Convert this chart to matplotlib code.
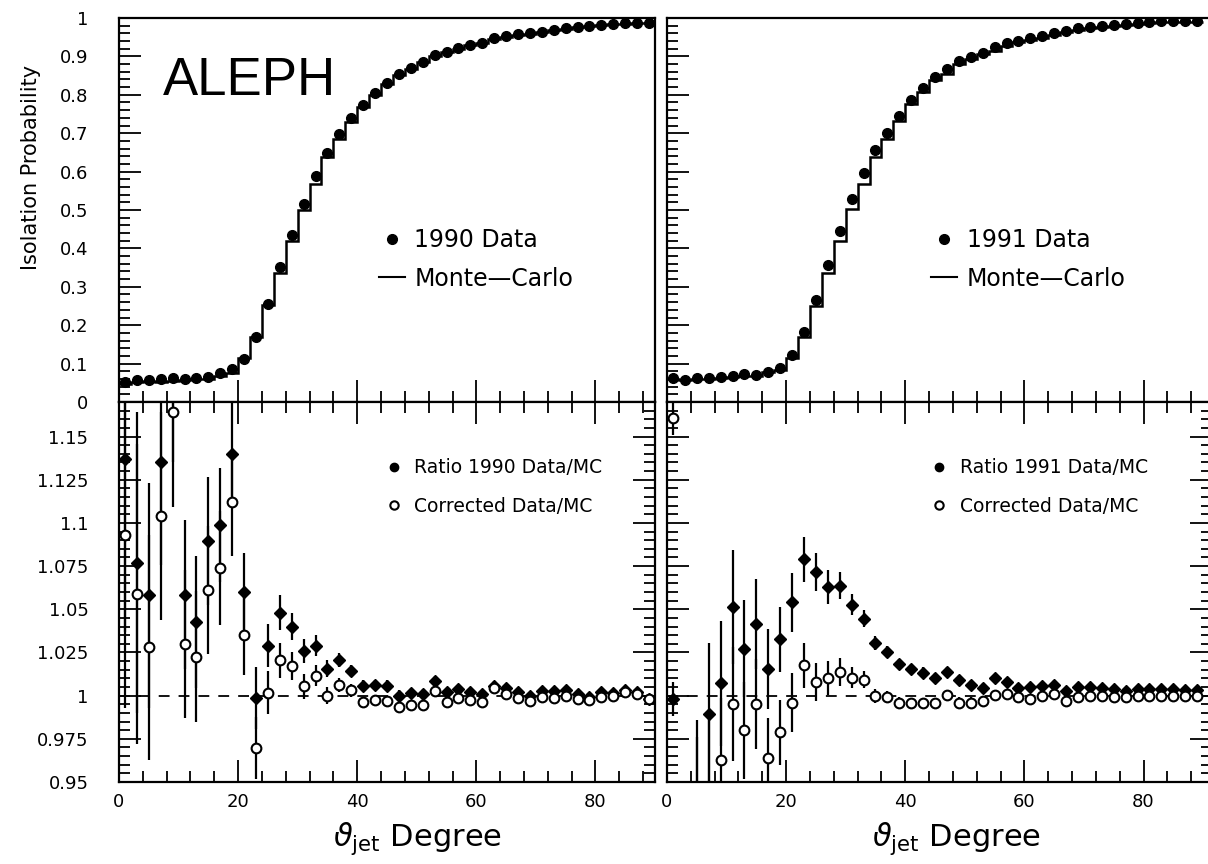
import matplotlib.pyplot as plt
import numpy as np
from matplotlib.lines import Line2D
from matplotlib.ticker import MultipleLocator, FuncFormatter

# bin centres / edges (degrees)
theta = [1, 3, 5, 7, 9, 11, 13, 15, 17, 19, 21, 23, 25, 27, 29, 31, 33, 35, 37, 39, 41, 43, 45,
         47, 49, 51, 53, 55, 57, 59, 61, 63, 65, 67, 69, 71, 73, 75, 77, 79, 81, 83, 85, 87, 89]
edges = [0, 2, 4, 6, 8, 10, 12, 14, 16, 18, 20, 22, 24, 26, 28, 30, 32, 34, 36, 38, 40, 42, 44, 46,
         48, 50, 52, 54, 56, 58, 60, 62, 64, 66, 68, 70, 72, 74, 76, 78, 80, 82, 84, 86, 88, 90]

# isolation probability, 1990
iso_data_90 = [0.053, 0.057, 0.057, 0.059, 0.062, 0.061, 0.062, 0.064, 0.075, 0.086, 0.112, 0.170,
               0.255, 0.351, 0.435, 0.515, 0.589, 0.649, 0.698, 0.739, 0.773, 0.804, 0.832, 0.854,
               0.869, 0.886, 0.904, 0.912, 0.921, 0.930, 0.936, 0.947, 0.953, 0.958, 0.960, 0.964,
               0.969, 0.973, 0.977, 0.980, 0.982, 0.984, 0.986, 0.986, 0.987]
iso_mc_90 = [0.048, 0.053, 0.054, 0.053, 0.055, 0.058, 0.059, 0.059, 0.069, 0.076, 0.114, 0.169,
             0.253, 0.335, 0.420, 0.500, 0.569, 0.639, 0.684, 0.729, 0.768, 0.800, 0.829, 0.852,
             0.868, 0.885, 0.900, 0.911, 0.920, 0.929, 0.935, 0.945, 0.951, 0.956, 0.959, 0.963,
             0.968, 0.972, 0.976, 0.979, 0.982, 0.984, 0.985, 0.986, 0.987]

# isolation probability, 1991
iso_data_91 = [0.062, 0.057, 0.062, 0.063, 0.064, 0.068, 0.072, 0.070, 0.079, 0.088, 0.122, 0.183,
               0.266, 0.357, 0.445, 0.528, 0.597, 0.655, 0.701, 0.745, 0.787, 0.817, 0.847, 0.866,
               0.889, 0.899, 0.910, 0.924, 0.934, 0.941, 0.947, 0.953, 0.962, 0.967, 0.973, 0.977,
               0.980, 0.982, 0.984, 0.988, 0.990, 0.992, 0.992, 0.993, 0.993]
iso_mc_91 = [0.060, 0.056, 0.060, 0.061, 0.062, 0.066, 0.069, 0.068, 0.077, 0.083, 0.114, 0.170,
             0.250, 0.337, 0.420, 0.502, 0.569, 0.639, 0.684, 0.731, 0.775, 0.806, 0.838, 0.855,
             0.881, 0.893, 0.906, 0.914, 0.927, 0.937, 0.942, 0.948, 0.956, 0.964, 0.968, 0.973,
             0.976, 0.978, 0.982, 0.985, 0.987, 0.989, 0.989, 0.990, 0.990]
iso_err = [0.004, 0.004, 0.004, 0.004, 0.004, 0.004, 0.004, 0.004, 0.005, 0.005, 0.006, 0.007,
           0.008, 0.008, 0.008, 0.008, 0.008, 0.007, 0.007, 0.007, 0.006, 0.006, 0.006, 0.005,
           0.005, 0.005, 0.005, 0.004, 0.004, 0.004, 0.004, 0.004, 0.003, 0.003, 0.003, 0.003,
           0.003, 0.003, 0.003, 0.003, 0.003, 0.003, 0.003, 0.003, 0.003]

# ratios data/MC, 1990
ratio_90 = [1.137, 1.077, 1.058, 1.1355, 1.19, 1.0585, 1.0426, 1.0895, 1.0987, 1.140, 1.0598,
            0.9985, 1.029, 1.048, 1.040, 1.026, 1.029, 1.0157, 1.0205, 1.0144, 1.0058, 1.0061,
            1.0058, 1.000, 1.0015, 1.001, 1.0086, 1.0019, 1.0038, 1.0019, 1.001, 1.0058, 1.0044,
            1.0019, 1.000, 1.0025, 1.0025, 1.0033, 1.001, 0.9994, 1.0019, 1.0013, 1.0033, 1.0019,
            0.998]
corr_90 = [1.093, 1.0588, 1.028, 1.104, 1.164, 1.030, 1.0226, 1.061, 1.074, 1.112, 1.035,
           0.9697, 1.0016, 1.0205, 1.017, 1.0053, 1.0115, 1.000, 1.006, 1.003, 0.9962, 0.9975,
           0.9967, 0.9933, 0.9943, 0.9948, 1.0025, 0.9962, 0.9987, 0.9975, 0.9962, 1.0044, 1.001,
           0.9987, 0.9967, 0.999, 0.9987, 1.000, 0.998, 0.9975, 0.999, 1.000, 1.0019, 1.001,
           0.998]
ratio_err_90 = [0.100, 0.087, 0.065, 0.060, 0.055, 0.043, 0.038, 0.037, 0.033, 0.031, 0.023,
                0.018, 0.0125, 0.010, 0.008, 0.007, 0.006, 0.005, 0.004, 0.0035, 0.003, 0.003,
                0.003, 0.003, 0.003, 0.003, 0.003, 0.0025, 0.0025, 0.0025, 0.0025, 0.0025, 0.0025,
                0.002, 0.002, 0.002, 0.002, 0.002, 0.002, 0.002, 0.002, 0.002, 0.002, 0.002, 0.002]

# ratios data/MC, 1991
ratio_91 = [0.998, np.nan, 0.940, 0.9895, 1.0071, 1.0512, 1.0272, 1.0416, 1.0153, 1.0326, 1.054,
            1.079, 1.0713, 1.063, 1.0637, 1.0527, 1.0445, 1.0307, 1.0255, 1.0183, 1.0155, 1.0133,
            1.0103, 1.0138, 1.009, 1.0061, 1.0042, 1.010, 1.008, 1.0046, 1.005, 1.0055, 1.0063,
            1.0027, 1.005, 1.0048, 1.0046, 1.004, 1.0027, 1.0037, 1.0037, 1.004, 1.0037, 1.0032,
            1.003]
corr_91 = [1.161, np.nan, 0.930, 0.945, 0.9625, 0.995, 0.980, 0.995, 0.964, 0.9787, 0.996,
           1.0176, 1.008, 1.0103, 1.0138, 1.0103, 1.0092, 1.000, 0.999, 0.996, 0.9955, 0.9955,
           0.9955, 1.0004, 0.996, 0.996, 0.997, 1.0004, 1.0008, 0.999, 0.998, 1.000, 1.0008,
           0.997, 0.999, 1.000, 1.000, 0.999, 0.999, 1.000, 1.000, 1.000, 1.000, 1.000, 0.9995]
ratio_err_91 = [0.010, np.nan, 0.046, 0.041, 0.036, 0.033, 0.028, 0.026, 0.023, 0.019, 0.017,
                0.013, 0.011, 0.010, 0.008, 0.006, 0.005, 0.004, 0.0035, 0.003, 0.003, 0.003,
                0.003, 0.003, 0.003, 0.003, 0.003, 0.0025, 0.0025, 0.0025, 0.0025, 0.0025, 0.0025,
                0.002, 0.002, 0.002, 0.002, 0.002, 0.002, 0.002, 0.002, 0.002, 0.002, 0.002, 0.002]

years = ["1990", "1991"]

fig = plt.figure(figsize=(12.08, 8.64), dpi=100)
W, H = 1208.0, 864.0
ax_tl = fig.add_axes([119 / W, 1 - 402 / H, 536 / W, 384 / H])
ax_bl = fig.add_axes([119 / W, 1 - 782 / H, 536 / W, 380 / H])
ax_tr = fig.add_axes([667 / W, 1 - 402 / H, 545 / W, 384 / H])
ax_br = fig.add_axes([667 / W, 1 - 782 / H, 545 / W, 380 / H])

fmt = FuncFormatter(lambda v, p: "%g" % round(v, 4))
lw = 1.6


def style_axes(ax, top):
    for s in ax.spines.values():
        s.set_linewidth(1.6)
    ax.xaxis.set_major_locator(MultipleLocator(20))
    ax.xaxis.set_minor_locator(MultipleLocator(4))
    ax.tick_params(which='both', direction='in', width=1.3)
    ax.tick_params(which='major', length=16)
    ax.tick_params(which='minor', length=8)
    if top:
        ax.set_ylim(0, 1)
        ax.yaxis.set_major_locator(MultipleLocator(0.1))
        ax.yaxis.set_minor_locator(MultipleLocator(0.02))
        ax.tick_params(which='both', top=False, right=False, bottom=True, left=True,
                       labelbottom=False)
    else:
        ax.set_ylim(0.95, 1.17)
        ax.yaxis.set_major_locator(MultipleLocator(0.025))
        ax.yaxis.set_minor_locator(MultipleLocator(0.005))
        ax.tick_params(which='both', top=True, bottom=True, left=True, right=True)
        ax.tick_params(axis='x', labelsize=13, pad=8)
    ax.yaxis.set_major_formatter(fmt)
    ax.tick_params(axis='y', labelsize=13, pad=22)


for ax in (ax_tl, ax_bl):
    ax.set_xlim(0, 90)
for ax in (ax_tr, ax_br):
    ax.set_xlim(0, 91.5)
style_axes(ax_tl, True)
style_axes(ax_tr, True)
style_axes(ax_bl, False)
style_axes(ax_br, False)
for ax in (ax_tr, ax_br):
    ax.tick_params(axis='y', labelleft=False)

# top panels: isolation probability
for ax, data, mc, yr in ((ax_tl, iso_data_90, iso_mc_90, years[0]),
                         (ax_tr, iso_data_91, iso_mc_91, years[1])):
    ax.stairs(mc, edges, baseline=None, color='k', lw=1.8)
    ax.errorbar(theta, data, yerr=iso_err, fmt='o', color='k', ms=7, elinewidth=lw, capsize=0)
    handles = [Line2D([], [], marker='o', color='k', ls='none', ms=7),
               Line2D([], [], color='k', lw=1.5)]
    ax.legend(handles, [yr + " Data", "Monte\u2014Carlo"], loc='upper left',
              bbox_to_anchor=(0.485, 0.452), frameon=False, fontsize=17, handlelength=1.1,
              handletextpad=0.4, labelspacing=0.6, borderpad=0, borderaxespad=0)

ax_tl.set_ylabel("Isolation Probability", fontsize=15)
ax_tl.yaxis.set_label_coords(-0.145, 0.61)
ax_tl.text(0.082, 0.80, "ALEPH", transform=ax_tl.transAxes, fontsize=38,
           family='Liberation Sans', ha='left', va='baseline')

# bottom panels: ratios
for ax, r, c, e, yr in ((ax_bl, ratio_90, corr_90, ratio_err_90, years[0]),
                        (ax_br, ratio_91, corr_91, ratio_err_91, years[1])):
    ax.axhline(1.0, color='k', lw=1.3, ls=(0, (6, 5)))
    ax.errorbar(theta, r, yerr=e, fmt='D', color='k', ms=6.5, elinewidth=lw, capsize=0)
    ax.errorbar(theta, c, yerr=e, fmt='o', color='k', mfc='white', mec='k', mew=1.5, ms=7,
                elinewidth=lw, capsize=0)
    handles = [Line2D([], [], marker='o', color='k', ls='none', ms=6),
               Line2D([], [], marker='o', color='k', mfc='white', mew=1.5, ls='none', ms=6)]
    ax.legend(handles, ["Ratio " + yr + " Data/MC", "Corrected Data/MC"], loc='upper left',
              bbox_to_anchor=(0.495 if ax is ax_bl else 0.482, 0.852), frameon=False,
              fontsize=13.5, handlelength=1.0, handletextpad=0.6, labelspacing=1.05,
              borderpad=0, borderaxespad=0)
    ax.set_xlabel(r"$\vartheta_{\rm jet}$ Degree", fontsize=22, va='center')

ax_bl.xaxis.set_label_coords(0.556, -0.15)
ax_br.xaxis.set_label_coords(0.532, -0.15)

plt.savefig("out.png", dpi=100)
